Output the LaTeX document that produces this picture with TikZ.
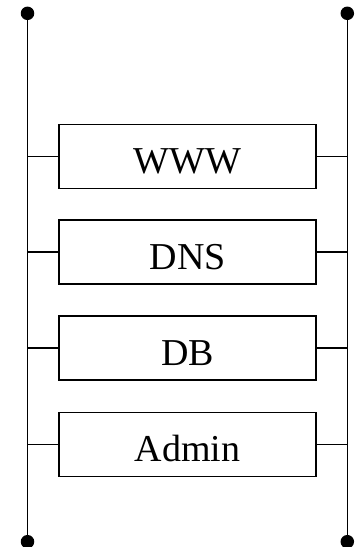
\documentclass[tikz,border=0pt]{standalone}
\usepackage{fontspec}
\setmainfont{Liberation Serif}
\begin{document}
\begin{tikzpicture}[x=1pt,y=-1pt,
  wire/.style={line width=1.6pt,black},
  srvbox/.style={draw,line width=1.6pt,minimum width=257pt,minimum height=64pt,inner sep=0pt,
    text height=40pt,text depth=5.4pt,font=\fontsize{38pt}{40pt}\selectfont},
  dotend/.style={circle,fill=black,inner sep=0pt,minimum size=13.5pt}]
\useasboundingbox (0,0) rectangle (361,547);
\node[dotend] (lt) at (27.5,13.3) {};
\node[dotend] (lb) at (27.5,541.7) {};
\node[dotend] (rt) at (347.3,13.3) {};
\node[dotend] (rb) at (347.3,541.7) {};
\draw[wire] (lt.center) -- (lb.center);
\draw[wire] (rt.center) -- (rb.center);
\node[srvbox] (www) at (187.7,156.3) {WWW};
\node[srvbox] (dns) at (187.7,252.2) {DNS};
\node[srvbox] (db) at (187.7,348.2) {DB};
\node[srvbox] (adm) at (187.7,444.3) {Admin};
\foreach \b in {www,dns,db,adm}{
  \draw[wire] (\b.west) -- (\b.west -| lt.center);
  \draw[wire] (\b.east) -- (\b.east -| rt.center);
}
\end{tikzpicture}
\end{document}
